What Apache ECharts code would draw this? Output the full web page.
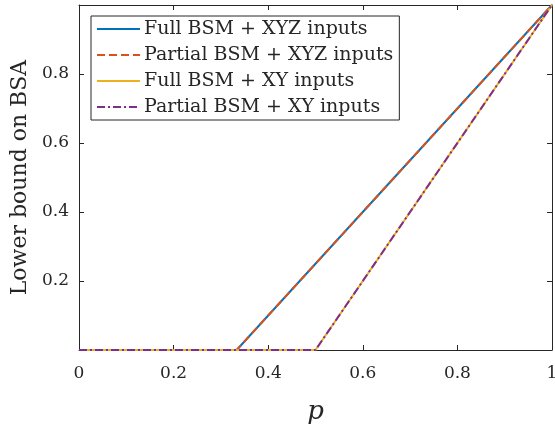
<!DOCTYPE html>
<html>
<head>
<meta charset="utf-8">
<title>Lower bound on BSA</title>
<script src="https://cdn.jsdelivr.net/npm/echarts@6/dist/echarts.min.js"></script>
<style>
  html, body { margin: 0; padding: 0; background: #fff; }
  #main { width: 555px; height: 427px; }
</style>
</head>
<body>
<div id="main"></div>
<script>
// data
var seriesNames = ['Full BSM + XYZ inputs', 'Partial BSM + XYZ inputs', 'Full BSM + XY inputs', 'Partial BSM + XY inputs'];
var pXYZ = [0, 0.3333, 1];
var boundXYZ = [0, 0, 1];
var pXY = [0, 0.5, 1];
var boundXY = [0, 0, 1];
var xTicks = ['0', '0.2', '0.4', '0.6', '0.8', '1'];
var yTicks = ['', '0.2', '0.4', '0.6', '0.8', ''];

var colors = ['#0072BD', '#D95319', '#EDB120', '#7E2F8E'];
var dashes = ['solid', [8, 4], 'solid', [8, 3, 2, 3]];
var font = 'DejaVu Serif';
var ink = '#262626';

function pairs(xs, ys) {
  var out = [];
  for (var i = 0; i < xs.length; i++) out.push([xs[i], ys[i]]);
  return out;
}
var lines = [pairs(pXYZ, boundXYZ), pairs(pXYZ, boundXYZ), pairs(pXY, boundXY), pairs(pXY, boundXY)];

var chart = echarts.init(document.getElementById('main'));

var series = [];
for (var i = 0; i < 4; i++) {
  series.push({
    name: seriesNames[i],
    type: 'line',
    symbol: 'none',
    clip: false,
    data: lines[i],
    lineStyle: { color: colors[i], width: 2, type: dashes[i] },
    itemStyle: { color: colors[i] }
  });
}

var axisLine = { show: true, onZero: false, lineStyle: { color: ink, width: 1 } };
var tick = { show: true, inside: true, length: 5, lineStyle: { color: ink } };

chart.setOption({
  animation: false,
  grid: { left: 79, right: 3, top: 5, bottom: 77, outerBoundsMode: 'none', containLabel: false },
  legend: {
    left: 91, top: 16,
    orient: 'vertical',
    data: seriesNames,
    itemWidth: 43, itemHeight: 14, itemGap: 6,
    padding: [3, 6, 3, 5],
    borderColor: ink, borderWidth: 1, borderRadius: 0,
    backgroundColor: '#fff',
    itemStyle: { opacity: 0 },
    textStyle: { fontFamily: font, fontSize: 19, color: ink, lineHeight: 20, padding: [0, 0, 0, -1] }
  },
  xAxis: [{
    type: 'value', min: 0, max: 1, interval: 0.2,
    name: 'p', nameLocation: 'middle', nameGap: 49,
    nameTextStyle: { fontFamily: font, fontStyle: 'italic', fontSize: 26, color: ink },
    axisLine: axisLine, axisTick: tick, splitLine: { show: false },
    axisLabel: { margin: 15, fontFamily: font, fontSize: 17, color: ink,
      formatter: function (v) { return xTicks[Math.round(v / 0.2)]; } }
  }, {
    type: 'value', min: 0, max: 1, interval: 0.2, position: 'top',
    axisLine: axisLine, axisTick: tick, splitLine: { show: false }, axisLabel: { show: false }
  }],
  yAxis: [{
    type: 'value', min: 0, max: 1, interval: 0.2,
    name: 'Lower bound on BSA', nameLocation: 'middle', nameGap: 46,
    nameTextStyle: { fontFamily: font, fontSize: 22, color: ink },
    axisLine: axisLine, axisTick: tick, splitLine: { show: false },
    axisLabel: { margin: 10, fontFamily: font, fontSize: 17, color: ink,
      formatter: function (v) { return yTicks[Math.round(v / 0.2)]; } }
  }, {
    type: 'value', min: 0, max: 1, interval: 0.2, position: 'right',
    axisLine: axisLine, axisTick: tick, splitLine: { show: false }, axisLabel: { show: false }
  }],
  series: series
});
</script>
</body>
</html>
